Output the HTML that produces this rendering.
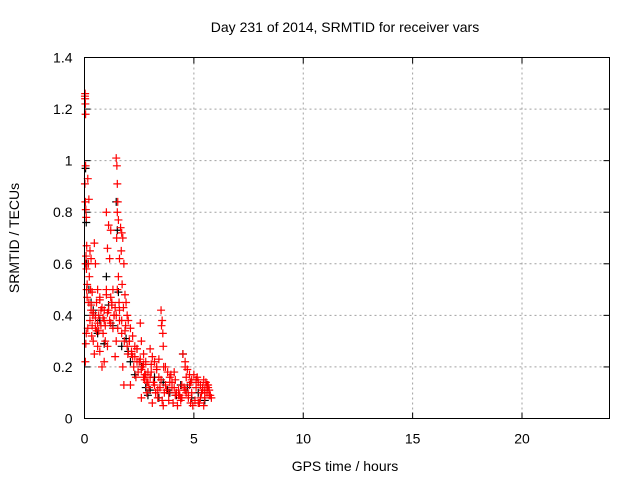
<!DOCTYPE html>
<html><head><meta charset="utf-8"><style>
body{margin:0;background:#fff;}
svg text{font-family:"Liberation Sans",sans-serif;font-size:14px;fill:#000;}
</style></head><body>
<svg id="chart" width="640" height="480" xmlns="http://www.w3.org/2000/svg">
<rect width="640" height="480" fill="#fff"/>
<text x="345" y="32" text-anchor="middle">Day 231 of 2014, SRMTID for receiver vars</text>
<g id="grid"></g>
<g id="ticks"></g>
<g id="points"></g>
<rect x="84.5" y="57.5" width="525" height="361" fill="none" stroke="#000" stroke-width="1"/>
<text x="345" y="471" text-anchor="middle">GPS time / hours</text>
<text x="19" y="238" text-anchor="middle" transform="rotate(-90 19 238)">SRMTID / TECUs</text>
</svg>
<script>
const xTicks=[0,5,10,15,20];
const yTicks=[0,0.2,0.4,0.6,0.8,1,1.2,1.4];
const yTickLabels=["0","0.2","0.4","0.6","0.8","1","1.2","1.4"];
const blackX=[0.05,0.08,0.1,0.2,0.3,0.5,0.6,0.7,0.9,1.1,1.3,1.45,1.5,1.55,1.7,1.9,2.1,2.3,2.6,2.8,3.0,3.2,3.4,3.6,3.9,4.2,4.5,4.7,4.9,5.2,5.5,0.4,1.0,2.0,2.9,3.8,4.4];
const blackY=[0.97,0.76,0.6,0.5,0.45,0.4,0.33,0.38,0.29,0.44,0.36,0.84,0.73,0.49,0.28,0.31,0.22,0.17,0.2,0.12,0.11,0.16,0.08,0.14,0.1,0.09,0.25,0.12,0.08,0.1,0.07,0.42,0.55,0.26,0.09,0.11,0.13];
const redX=[0.02,0.03,0.04,0.05,0.03,0.05,0.02,0.04,0.06,0.08,0.1,0.07,0.05,0.09,0.12,0.1,0.08,0.06,0.04,
0.15,0.2,0.25,0.3,0.18,0.22,0.28,0.35,0.12,0.2,0.3,0.38,0.25,0.15,0.33,0.4,
0.45,0.5,0.6,0.7,0.55,0.8,0.65,0.9,0.75,0.5,0.85,0.95,0.6,0.7,0.45,0.8,0.9,
1.0,1.1,1.2,1.05,1.15,1.3,1.0,1.25,1.4,1.1,1.35,1.2,1.3,1.45,1.05,
1.45,1.48,1.5,1.52,1.5,1.55,1.47,1.6,1.55,1.5,1.58,1.45,1.6,1.52,1.4,
1.65,1.7,1.75,1.68,1.8,1.72,1.85,1.9,1.78,1.95,1.88,1.7,1.82,1.98,1.75,1.8,
2.0,2.1,2.2,2.05,2.3,2.15,2.4,2.25,2.45,2.35,2.1,2.2,2.4,
2.55,2.6,2.7,2.8,2.65,2.9,2.75,2.95,2.85,2.6,2.7,2.8,
3.0,3.1,3.2,3.3,3.05,3.4,3.15,3.45,3.25,3.35,3.1,3.3,
3.5,3.55,3.52,3.58,3.6,3.62,3.5,3.65,3.55,3.6,
3.7,3.8,3.9,4.0,4.1,4.2,4.3,4.4,3.85,4.05,4.25,4.45,3.75,4.15,4.35,3.95,
4.5,4.6,4.7,4.8,4.9,4.55,4.65,4.75,4.85,4.95,4.6,4.8,
5.0,5.1,5.2,5.3,5.4,5.5,5.6,5.7,5.8,5.05,5.25,5.45,5.65,5.15,5.35,5.55,5.75,5.5,5.6,5.4,
0.3,0.4,0.5,0.6,0.65,0.75,0.85,0.95,1.05,1.15,1.25,1.35,0.35,0.55,0.7,0.9,1.0,1.2,
1.6,1.7,1.85,1.95,2.05,2.15,2.3,2.5,2.6,2.75,2.9,3.0,3.2,3.35,3.45,
3.7,3.85,4.0,4.15,4.3,4.45,4.6,4.75,4.9,5.1,5.3,5.5,5.7,
2.4,2.55,2.7,2.85,3.05,3.25,3.4,3.9,4.1,4.4,4.65,4.85,5.2,5.45,5.65];
const redY=[1.25,1.24,1.22,1.18,1.26,0.98,0.91,0.84,0.81,0.78,0.67,0.63,0.6,0.58,0.52,0.5,0.33,0.29,0.22,
0.93,0.85,0.65,0.62,0.6,0.55,0.5,0.49,0.47,0.45,0.42,0.4,0.38,0.35,0.32,0.3,
0.68,0.6,0.5,0.47,0.45,0.43,0.4,0.38,0.36,0.35,0.33,0.3,0.28,0.26,0.25,0.2,0.22,
0.8,0.75,0.73,0.66,0.62,0.5,0.48,0.45,0.43,0.42,0.4,0.37,0.35,0.3,0.28,
1.01,0.98,0.91,0.84,0.8,0.77,0.7,0.62,0.55,0.5,0.45,0.4,0.38,0.35,0.24,
0.74,0.72,0.7,0.65,0.6,0.52,0.48,0.45,0.43,0.4,0.36,0.33,0.3,0.25,0.2,0.13,
0.38,0.35,0.32,0.3,0.28,0.25,0.22,0.2,0.18,0.16,0.13,0.24,0.27,
0.37,0.3,0.25,0.22,0.2,0.18,0.15,0.12,0.1,0.08,0.21,0.17,
0.27,0.24,0.22,0.2,0.18,0.16,0.14,0.12,0.1,0.08,0.06,0.19,
0.42,0.38,0.36,0.33,0.28,0.2,0.15,0.1,0.07,0.05,
0.2,0.18,0.16,0.14,0.12,0.1,0.09,0.08,0.07,0.06,0.05,0.13,0.11,0.15,0.09,0.17,
0.25,0.22,0.19,0.17,0.15,0.12,0.1,0.08,0.06,0.05,0.2,0.13,
0.17,0.15,0.14,0.13,0.12,0.11,0.1,0.09,0.08,0.07,0.06,0.05,0.12,0.16,0.1,0.14,0.09,0.08,0.13,0.11,
0.44,0.41,0.39,0.37,0.34,0.42,0.39,0.36,0.41,0.38,0.44,0.4,0.36,0.34,0.46,0.42,0.5,0.47,
0.42,0.38,0.34,0.28,0.3,0.26,0.24,0.22,0.19,0.17,0.14,0.16,0.13,0.11,0.12,
0.13,0.1,0.12,0.09,0.11,0.08,0.11,0.09,0.1,0.12,0.08,0.1,0.11,
0.27,0.23,0.16,0.14,0.21,0.1,0.23,0.14,0.18,0.07,0.16,0.14,0.06,0.15,0.13];
const X0=84.5,X1=609.5,Y0=418.5,Y1=57.5,XMAX=24,YMAX=1.4;
function sx(v){return X0+(X1-X0)*v/XMAX;}
function sy(v){return Y0-(Y0-Y1)*v/YMAX;}
const NS="http://www.w3.org/2000/svg";
const grid=document.getElementById('grid'),ticks=document.getElementById('ticks'),pts=document.getElementById('points');
function mk(tag,attrs,parent){const e=document.createElementNS(NS,tag);for(const k in attrs)e.setAttribute(k,attrs[k]);parent.appendChild(e);return e;}
xTicks.forEach(function(t,i){
  const x=sx(t);
  if(i>0){const g=mk('line',{x1:x,x2:x,y1:Y1,y2:Y0,stroke:'#a0a0a0','stroke-dasharray':'2,3'},grid);
  
  }
  mk('line',{x1:x,x2:x,y1:Y0,y2:Y0-6,stroke:'#000'},ticks);
  mk('line',{x1:x,x2:x,y1:Y1,y2:Y1+6,stroke:'#000'},ticks);
  const tx=mk('text',{x:x,y:Y0+25,'text-anchor':'middle'},ticks);tx.textContent=String(t);
  
  
});
yTicks.forEach(function(t,i){
  const y=sy(t);
  if(i>0&&i<yTicks.length-1){const g=mk('line',{x1:X0,x2:X1,y1:y,y2:y,stroke:'#a0a0a0','stroke-dasharray':'2,3'},grid);
  
  }
  mk('line',{x1:X0,x2:X0+6,y1:y,y2:y,stroke:'#000'},ticks);
  mk('line',{x1:X1,x2:X1-6,y1:y,y2:y,stroke:'#000'},ticks);
  const tx=mk('text',{x:X0-12,y:y+5,'text-anchor':'end'},ticks);tx.textContent=yTickLabels[i];
  
  
});
function plus(xv,yv,col,name){
  const x=sx(xv),y=sy(yv);
  const p=mk('path',{d:'M'+(x-4)+' '+y+'H'+(x+4)+'M'+x+' '+(y-4)+'V'+(y+4),stroke:col,'stroke-width':1.2,fill:'none'},pts);
  
  
}
blackX.forEach(function(v,i){plus(v,blackY[i],'#000','black-point');});
redX.forEach(function(v,i){plus(v,redY[i],'#f00','red-point');});
</script>
</body></html>
